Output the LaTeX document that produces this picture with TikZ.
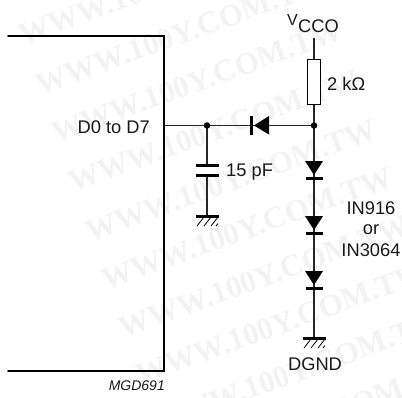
\documentclass[tikz,border=0pt]{standalone}
\usepackage{fontspec}
\setmainfont{Liberation Sans}
\newfontfamily\wmfont{Liberation Serif}
\begin{document}
\begin{tikzpicture}[x=1pt,y=-1pt,
  wire/.style={line width=1.2pt,black!85},
  thick box/.style={line width=1.7pt,black,line cap=round,line join=miter},
  lab/.style={font=\fontsize{18.3}{20}\selectfont,inner sep=0pt,text=black!90},
  dot/.style={circle,fill=black,inner sep=0pt,minimum size=6.5pt},
  plate/.style={line width=3pt,black},
  gnd/.style={line width=3pt,black},
  hatch/.style={line width=.8pt,black},
  wm/.style={font=\wmfont\bfseries\fontsize{31}{31}\selectfont,text=black!5,rotate=20,anchor=west,inner sep=0pt}]
\useasboundingbox (0,0) rectangle (402,397);
% watermark
\foreach \a/\b in {20/30,37/80,53/128,70/177,87/227,103/275,120/323,137/370,153/418,170/466}{
  \node[wm] at (\a,\b+6) {WWW.100Y.COM.TW};
}
% block
\draw[thick box] (8,36) -- (164,36) -- (164,371) -- (8,371);
\coordinate (pin) at (164,125.5);
\coordinate (j1) at (207,125.5);
\coordinate (j2) at (314,125.5);
\coordinate (vcc) at (314,38);
\node[draw=black,line width=1pt,minimum width=13pt,minimum height=45pt,inner sep=0pt,fill=white] (res) at (314,82) {};
% wires
\draw[wire] (vcc) -- (res.north);
\draw[wire] (res.south) -- (j2);
\draw[wire] (pin) -- (j1);
\draw[wire] (j1) -- (j2);
\draw[wire] (j1) -- (207,165);
\draw[wire] (207,175) -- (207,216);
\draw[wire] (j2) -- (314,337);
\node[dot] at (j1) {};
\node[dot] at (j2) {};
% horizontal diode
\fill (269,116) -- (269,134.5) -- (254,125.5) -- cycle;
\draw[line width=3pt] (251,116) -- (251,135);
% capacitor
\draw[plate] (196,165.5) -- (219,165.5);
\draw[plate] (196,175) -- (219,175);
% ground capacitor
\draw[gnd] (196,216) -- (219,216);
\foreach \x in {197,204,211}{\draw[hatch] (\x+7,217) -- (\x,226);}
\draw[hatch] (218,223.5) -- (216,226);
% diode chain
\foreach \t/\b in {161/178,216/233,271/288}{
  \fill (305,\t) -- (323,\t) -- (314,\t+14) -- cycle;
  \draw[line width=3pt] (305.5,\b) -- (322.5,\b);
}
% ground bottom
\draw[gnd] (303,338) -- (326,338);
\foreach \x in {304,311,318}{\draw[hatch] (\x+7,339) -- (\x,348);}
\draw[hatch] (325,345.5) -- (323,348);
% labels
\node[lab,anchor=base west] (vccl) at (287,25) {\fontsize{16}{18}\selectfont V};
\node[lab,anchor=base west] (ccol) at (298,32.5) {CCO};
\node[lab,anchor=west] (rl) at (327,83.5) {2 k\symbol{"03A9}};
\node[lab,anchor=west] (cl) at (226,172) {15 pF};
\node[lab,anchor=east] (dl) at (150,127) {D0 to D7};
\node[lab] (in1) at (371,208) {IN916};
\node[lab] (in2) at (371,230) {or};
\node[lab] (in3) at (371,250) {IN3064};
\node[lab] (dg) at (315,364) {DGND};
\node[lab,anchor=east,font=\itshape\fontsize{14}{16}\selectfont] (mg) at (165,386) {MGD691};
\end{tikzpicture}
\end{document}
